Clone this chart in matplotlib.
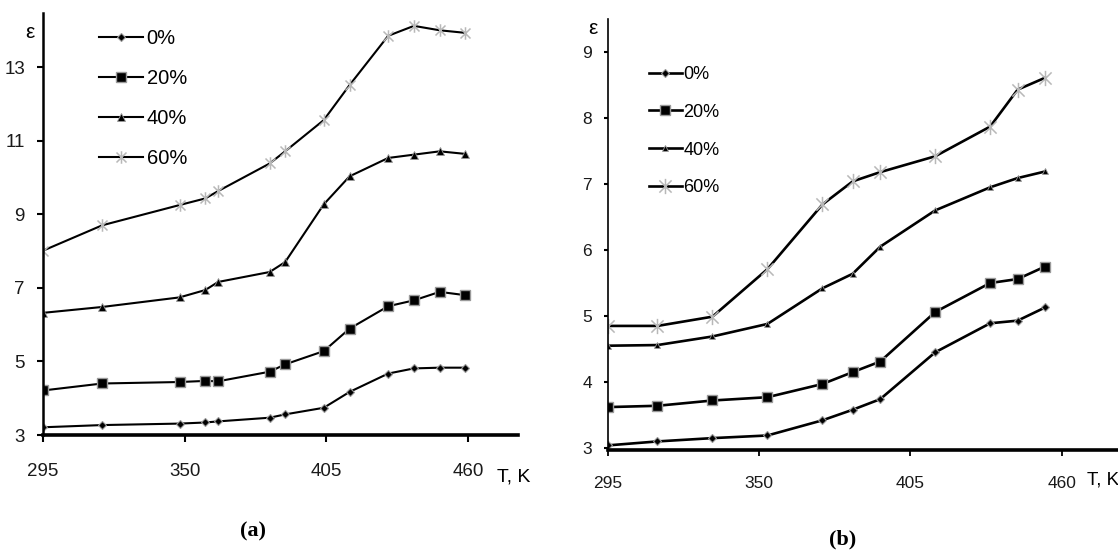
import matplotlib
matplotlib.use("Agg")
import matplotlib.pyplot as plt
from matplotlib import font_manager as fm
from matplotlib.path import Path

# Дані для панелі (a)
T_a = [295, 318, 348, 358, 363, 383, 389, 404, 414, 429, 439, 449, 459]
a_0 = [3.21, 3.27, 3.31, 3.34, 3.37, 3.47, 3.56, 3.74, 4.17, 4.67, 4.81, 4.83, 4.83]
a_20 = [4.21, 4.40, 4.44, 4.47, 4.46, 4.72, 4.92, 5.28, 5.89, 6.50, 6.66, 6.89, 6.80]
a_40 = [6.32, 6.48, 6.74, 6.94, 7.16, 7.43, 7.70, 9.27, 10.03, 10.53, 10.62, 10.71, 10.64]
a_60 = [8.01, 8.70, 9.25, 9.43, 9.63, 10.38, 10.71, 11.56, 12.51, 13.85, 14.12, 14.00, 13.93]

# Дані для панелі (b)
T_b = [295, 313, 333, 353, 373, 384, 394, 414, 434, 444, 454]
b_0 = [3.04, 3.10, 3.15, 3.19, 3.42, 3.58, 3.74, 4.45, 4.89, 4.93, 5.13]
b_20 = [3.62, 3.64, 3.72, 3.77, 3.97, 4.15, 4.31, 5.06, 5.50, 5.56, 5.75]
b_40 = [4.55, 4.56, 4.69, 4.88, 5.42, 5.64, 6.05, 6.60, 6.95, 7.09, 7.19]
b_60 = [4.85, 4.85, 4.99, 5.71, 6.69, 7.04, 7.18, 7.42, 7.87, 8.43, 8.61]

labels = ["0%", "20%", "40%", "60%"]
x_ticks = [295, 350, 405, 460]
y_ticks_a = [3, 5, 7, 9, 11, 13]
y_ticks_b = [3, 4, 5, 6, 7, 8, 9]


def pick(names):
    for n in names:
        try:
            fm.findfont(fm.FontProperties(family=n), fallback_to_default=False)
            return n
        except ValueError:
            pass
    return "DejaVu Sans"


sans = pick(["Liberation Sans", "Arial"])
narrow = pick(["Liberation Sans Narrow", "Liberation Sans"])
serif = pick(["Liberation Serif", "DejaVu Serif"])

W, H = 1118, 552
fig = plt.figure(figsize=(W / 100, H / 100), dpi=100)

# маркер-зірочка як в Excel
star = Path([(-1, -1), (1, 1), (-1, 1), (1, -1), (0, -1.25), (0, 1.25)],
            [Path.MOVETO, Path.LINETO] * 3)


def px(x, y):
    return x / W, 1 - y / H


def draw_panel(ax, T, series, lw, ms, font, fs, ylim, yticks, xlim):
    styles = [
        dict(marker="D", markersize=ms[0], markerfacecolor="black", markeredgecolor="#9a9a9a", markeredgewidth=0.8),
        dict(marker="s", markersize=ms[1], markerfacecolor="black", markeredgecolor="#9a9a9a", markeredgewidth=1.0),
        dict(marker="^", markersize=ms[2], markerfacecolor="black", markeredgecolor="#9a9a9a", markeredgewidth=0.6),
        dict(marker=star, markersize=ms[3], markerfacecolor="none", markeredgecolor="#b8b8b8", markeredgewidth=1.1),
    ]
    lines = []
    for vals, lab, st in zip(series, labels, styles):
        ln, = ax.plot(T, vals, color="black", linewidth=lw, label=lab, **st)
        lines.append(ln)
    ax.set_xlim(*xlim)
    ax.set_ylim(*ylim)
    ax.set_xticks(x_ticks)
    ax.set_yticks(yticks)
    ax.spines["top"].set_visible(False)
    ax.spines["right"].set_visible(False)
    ax.patch.set_alpha(0)
    for lab in ax.get_xticklabels() + ax.get_yticklabels():
        lab.set_fontfamily(font)
        lab.set_fontsize(fs)
        lab.set_color("#1a1a1a")
    return lines


# Панель (a)
ax1 = fig.add_axes([43 / W, (H - 435) / H, (518 - 43) / W, (435 - 13) / H])
l1 = draw_panel(ax1, T_a, [a_0, a_20, a_40, a_60], 1.5, [4, 7, 5.5, 9], sans, 13.5,
                (3, 14.47), y_ticks_a, (295, 479.4))
ax1.spines["left"].set_linewidth(1.8)
ax1.spines["bottom"].set_linewidth(2.6)
ax1.tick_params(axis="x", direction="out", length=5, width=1.5, pad=15)
ax1.tick_params(axis="y", direction="out", length=4, width=1.5, pad=9)
ax1.legend(handles=l1, loc="upper left", bbox_to_anchor=px(99, 29), bbox_transform=fig.transFigure,
           frameon=False, borderpad=0, borderaxespad=0, handlelength=2.16, handletextpad=0.2,
           labelspacing=1.05, numpoints=1, prop=dict(family=sans, size=14.5))

# Панель (b)
ax2 = fig.add_axes([608 / W, (H - 450) / H, (W - 608) / W, (450 - 19) / H])
l2 = draw_panel(ax2, T_b, [b_0, b_20, b_40, b_60], 1.9, [4, 6.5, 5, 11], narrow, 12.5,
                (2.97, 9.5), y_ticks_b, (295, 480.5))
ax2.spines["left"].set_linewidth(1.2)
ax2.spines["bottom"].set_linewidth(2.6)
ax2.tick_params(axis="x", direction="out", length=4, width=1.3, pad=15)
ax2.tick_params(axis="y", direction="out", length=3, width=1.5, pad=8.5)
ax2.legend(handles=l2, loc="upper left", bbox_to_anchor=px(649, 66), bbox_transform=fig.transFigure,
           frameon=False, borderpad=0, borderaxespad=0, handlelength=1.8, handletextpad=0.1,
           labelspacing=1.15, numpoints=1, prop=dict(family=narrow, size=13))

# Підписи осей
fig.text(*px(30, 33), "ε", family=sans, fontsize=15, ha="center", va="center")
fig.text(*px(497, 477), "T, K", family=sans, fontsize=14, ha="left", va="center")
fig.text(*px(593, 28), "ε", family=narrow, fontsize=15, ha="center", va="center")
fig.text(*px(1087, 480), "T, K", family=narrow, fontsize=13.5, ha="left", va="center")

# (a) та (b)
fig.text(*px(253, 531), "(a)", family=serif, fontsize=16, fontweight="bold", ha="center", va="center")
fig.text(*px(843, 539), "(b)", family=serif, fontsize=16, fontweight="bold", ha="center", va="center")

fig.savefig("out.png", dpi=100)
